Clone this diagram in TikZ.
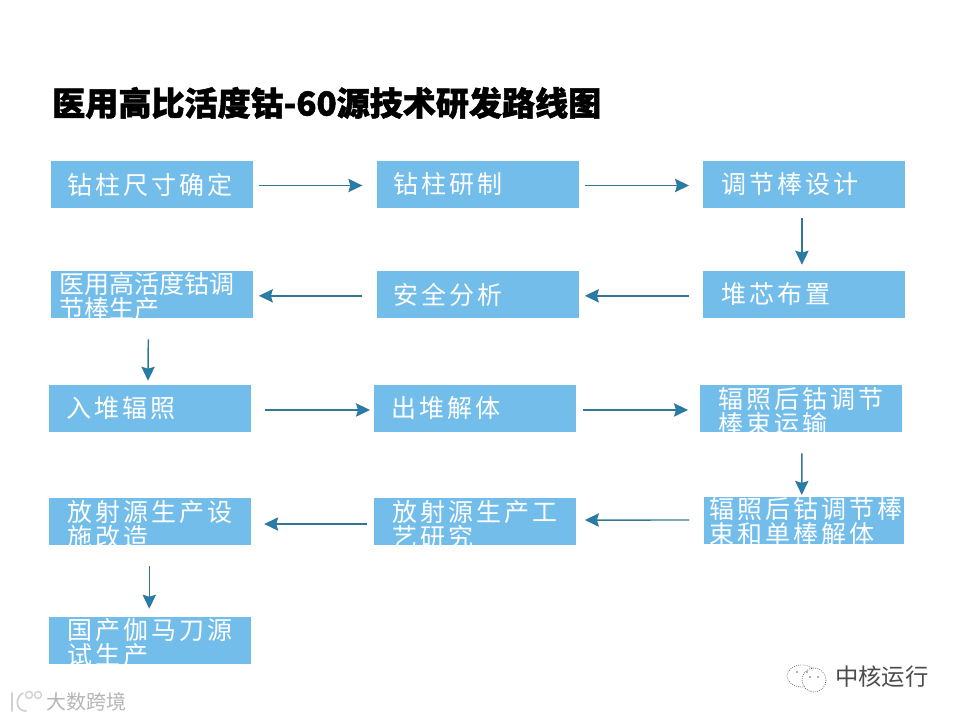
\documentclass[tikz,border=0pt]{standalone}
\usepackage{fontspec}
\usepackage{xcolor}
\setmainfont{Noto Sans CJK SC}
\newfontfamily\boxfont[LetterSpace=12]{Noto Sans CJK SC}
\newfontfamily\tightfont{Noto Sans CJK SC}
\newfontfamily\titlefont[FakeBold=1.5]{Noto Sans CJK SC Black}
\definecolor{boxblue}{RGB}{115, 189, 235}
\definecolor{flowblue}{RGB}{30, 128, 180}
\definecolor{stemblue}{RGB}{50, 120, 150}
\definecolor{markgray}{RGB}{120, 120, 120}
\usetikzlibrary{arrows.meta}
% two lines that may run over the box, as the box keeps its height
\newcommand{\twolines}[3]{\raisebox{#1}[0pt][0pt]{\parbox[c]{190bp}{\lineskiplimit=-100pt\baselineskip=18.75pt #2\\#3}}}
\tikzset{
  flowbox/.style={fill=boxblue, text=white, anchor=west, align=left, minimum width=151pt, minimum height=35.25pt,
    inner ysep=0pt, inner xsep=0pt, text width=151pt, font=\boxfont\fontsize{18.75pt}{18.75pt}\selectfont},
  flowline/.style={draw=stemblue, line width=1.1pt, -{Stealth[length=10.5pt, width=10pt, inset=1.5pt, fill=flowblue]}}
}

\begin{document}
\begin{tikzpicture}[x=0.75pt, y=-0.75pt]
  \useasboundingbox (0,0) rectangle (960,720);

  % Title
  \node[anchor=west, inner sep=0pt, font=\titlefont\fontsize{24.8pt}{26pt}\selectfont] (title) at (52,103) {医用高比活度钴-60源技术研发路线图};

  % Row 1
  \node[flowbox] (size) at (51,184.5) {\hspace*{12.5pt}钻柱尺寸确定};
  \node[flowbox] (make) at (377,184.5) {\hspace*{12.5pt}钻柱研制};
  \node[flowbox] (rod) at (703,184.5) {\hspace*{13.5pt}调节棒设计};

  % Row 2
  \node[flowbox] (core) at (703,294.5) {\hspace*{13.5pt}堆芯布置};
  \node[flowbox] (safety) at (377,294.5) {\hspace*{12.5pt}安全分析};
  \node[flowbox] (prod) at (51,294.5) {\hspace*{6pt}\twolines{-5.5pt}{\tightfont 医用高活度钴调}{\tightfont 节棒生产}};

  % Row 3
  \node[flowbox] (irr) at (49,408.5) {\hspace*{13pt}入堆辐照};
  \node[flowbox] (out) at (374,408.5) {\hspace*{13pt}出堆解体};
  \node[flowbox] (trans) at (700,408.5) {\hspace*{13.5pt}\twolines{-6.75pt}{辐照后钴调节}{棒束运输}};

  % Row 4
  \node[flowbox, minimum width=150pt, text width=150pt] (split) at (704,520) {\hspace*{4pt}\twolines{-5.75pt}{辐照后钴调节棒}{束和单棒解体}};
  \node[flowbox] (study) at (374,521.5) {\hspace*{13.5pt}\twolines{-6.75pt}{放射源生产工}{艺研究}};
  \node[flowbox] (plant) at (49,521.5) {\hspace*{13.5pt}\twolines{-6.75pt}{放射源生产设}{施改造}};

  % Row 5
  \node[flowbox] (gamma) at (49,640.5) {\hspace*{13.5pt}\twolines{-5.75pt}{国产伽马刀源}{试生产}};

  % Arrows
  \draw[flowline, shorten <=4.5pt, shorten >=11pt] ([yshift=-0.75pt]size.east) -- ([yshift=-0.75pt]make.west);
  \draw[flowline, shorten <=4.5pt, shorten >=10.5pt] ([yshift=-0.75pt]make.east) -- ([yshift=-0.75pt]rod.west);
  \draw[flowline, shorten <=7.5pt, shorten >=4.5pt] ([xshift=-1.5pt]rod.south) -- ([xshift=-1.5pt]core.north);
  \draw[flowline, shorten <=10.5pt, shorten >=4.5pt] ([yshift=-1pt]core.west) -- ([yshift=-1pt]safety.east);
  \draw[flowline, shorten <=11pt, shorten >=4.5pt] ([yshift=-1pt]safety.west) -- ([yshift=-1pt]prod.east);
  \draw[flowline, shorten <=15.75pt, shorten >=3pt] ([xshift=-2.6pt]prod.south) -- ([xshift=-1.5pt]irr.north);
  \draw[flowline, shorten <=10.5pt, shorten >=3pt] ([yshift=-1.1pt]irr.east) -- ([yshift=-1.1pt]out.west);
  \draw[flowline, shorten <=5.25pt, shorten >=9pt] ([yshift=-1.1pt]out.east) -- ([yshift=-1.1pt]trans.west);
  \draw[flowline, shorten <=15.75pt, shorten >=1pt] ([xshift=0.75pt]trans.south) -- ([xshift=-1.9pt]split.north);
  \draw[flowline, shorten <=11pt, shorten >=6.75pt] (split.west) -- ([yshift=1.1pt]study.east);
  \draw[flowline, shorten <=5pt, shorten >=10pt] ([yshift=-1.9pt]study.west) -- ([yshift=-1.9pt]plant.east);
  \draw[flowline, shorten <=15.75pt, shorten >=6pt] ([xshift=-0.5pt]plant.south) -- ([xshift=-0.5pt]gamma.north);

  % Marks at the foot of the page
  \node[anchor=west, inner sep=0pt, text=markgray!55, font=\fontsize{15pt}{16pt}\selectfont] (mark) at (46,702) {大数跨境};
  \draw[markgray!35, line width=1.3pt, line cap=round] (12,693) -- (12,711) (23,693) .. controls (15,697) and (15,711) .. (26,711);
  \draw[markgray!35, line width=1pt] (29,695) circle (3.5) (38,695) circle (3.5);
  \node[anchor=west, inner sep=0pt, text=black!70, font=\fontsize{17.5pt}{18pt}\selectfont] (wechat) at (835,677) {中核运行};
  % speech bubbles
  \draw[draw=black!55, densely dotted, line width=0.6pt] (802,676) ellipse (15 and 11);
  \draw[draw=black!60, fill=white, densely dotted, line width=0.6pt] (814,680) ellipse (12 and 12);
  \fill[black!60] (797,672) circle (0.9) (807,672) circle (0.9) (810,677) circle (0.9) (818,677) circle (0.9);
\end{tikzpicture}
\end{document}
